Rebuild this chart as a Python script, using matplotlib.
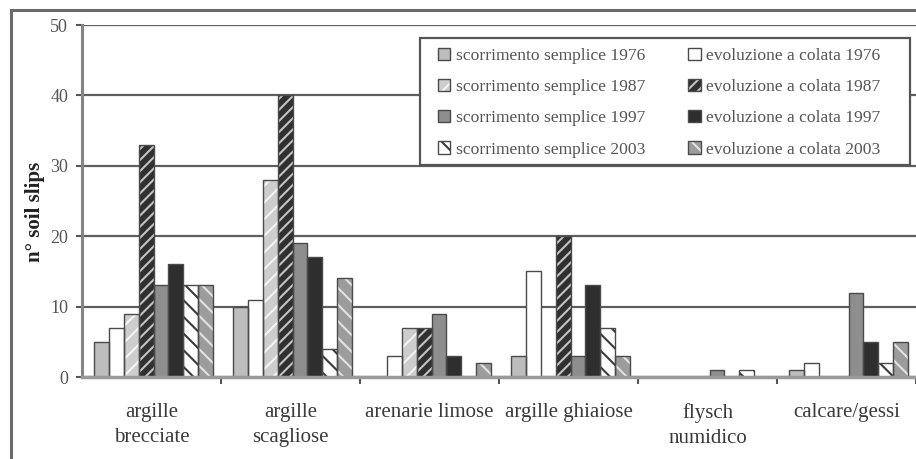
import numpy as np
import matplotlib.pyplot as plt
from matplotlib.patches import Patch, Rectangle
from matplotlib.lines import Line2D

categories = ['argille\nbrecciate', 'argille\nscagliose', 'arenarie limose',
              'argille ghiaiose', 'flysch\nnumidico', 'calcare/gessi']

sc_1976 = [5, 10, 0, 3, 0, 1]
ev_1976 = [7, 11, 3, 15, 0, 2]
sc_1987 = [9, 28, 7, 0, 0, 0]
ev_1987 = [33, 40, 7, 20, 0, 0]
sc_1997 = [13, 19, 9, 3, 1, 12]
ev_1997 = [16, 17, 3, 13, 0, 5]
sc_2003 = [13, 4, 0, 7, 1, 2]
ev_2003 = [13, 14, 2, 3, 0, 5]

labels = ['scorrimento semplice 1976', 'evoluzione a colata 1976',
          'scorrimento semplice 1987', 'evoluzione a colata 1987',
          'scorrimento semplice 1997', 'evoluzione a colata 1997',
          'scorrimento semplice 2003', 'evoluzione a colata 2003']
series = [sc_1976, ev_1976, sc_1987, ev_1987, sc_1997, ev_1997, sc_2003, ev_2003]

# face colour, hatch, hatch colour
styles = [
    ('#bdbdbd', '', None),
    ('#ffffff', '', None),
    ('#cdcdcd', '//', '#f4f4f4'),
    ('#303030', '///', '#c4c4c4'),
    ('#8e8e8e', '', None),
    ('#2e2e2e', '', None),
    ('#ffffff', '\\\\', '#3a3a3a'),
    ('#9c9c9c', '\\\\', '#e2e2e2'),
]
edge = '#4a4a4a'

plt.rcParams['font.family'] = 'Liberation Serif'
plt.rcParams['hatch.linewidth'] = 1.5

fig = plt.figure(figsize=(9.16, 4.59), dpi=100)
ax = fig.add_axes([82 / 916, 82 / 459, 1 - 82 / 916, 352 / 459])

x = np.arange(len(categories))
w = 15 / 140
for k, (vals, (face, hatch, hcol)) in enumerate(zip(series, styles)):
    pos = x + (k - 3.5) * w + 0.015
    ax.bar(pos, vals, w, color=face, hatch=hatch, edgecolor=hcol or face,
           linewidth=0, zorder=3)
    ax.bar(pos, vals, w, fill=False, edgecolor=edge, linewidth=1.0, zorder=4)

ax.set_xlim(-0.5, (916 - 82) / 140 - 0.5)
ax.set_ylim(0, 50)
ax.set_yticks(range(0, 51, 10))
ax.yaxis.grid(True, color='#5e5e5e', linewidth=1.6, zorder=1)
ax.set_axisbelow(True)

ax.set_xticks(x)
ax.set_xticklabels(categories, fontsize=15, color='#3a3a3a', linespacing=1.4)
ax.tick_params(axis='x', length=0, pad=19)
ax.set_xticks(np.arange(0.5, 6, 1), minor=True)
ax.tick_params(axis='x', which='minor', length=5, width=1.5, color='#555555',
               direction='out')
ax.tick_params(axis='y', length=4, width=1.5, color='#555555', pad=6,
               labelsize=13, labelcolor='#555555')

for side in ['top', 'right']:
    ax.spines[side].set_visible(False)
ax.spines['left'].set_color('#858585')
ax.spines['left'].set_linewidth(2.2)
ax.spines['bottom'].set_color('#9a9a9a')
ax.spines['bottom'].set_linewidth(2.5)
ax.spines['bottom'].set_zorder(5)

fig.text(35 / 916, 1 - 212 / 459, 'n° soil slips', rotation=90,
         fontsize=15, fontweight='bold', color='#222222',
         ha='center', va='center')

# outer frame of the chart area
fig.add_artist(Line2D([11 / 916, 11 / 916], [0, 1 - 10 / 459],
                      color='#6a6a6a', linewidth=2.2))
fig.add_artist(Line2D([11 / 916, 1], [1 - 10 / 459, 1 - 10 / 459],
                      color='#6a6a6a', linewidth=2.2))

# legend box
fig.add_artist(Rectangle((420 / 916, 1 - 165 / 459), 490 / 916, 127 / 459,
                         transform=fig.transFigure, facecolor='white',
                         edgecolor='#555555', linewidth=1.6, zorder=6))

# each legend key is the filled square with a dark outline on top
handles = [(Patch(facecolor=f, hatch=h, edgecolor=hc or f, linewidth=0),
            Patch(fill=False, edgecolor=edge, linewidth=1.0))
           for f, h, hc in styles]
order = [0, 2, 4, 6, 1, 3, 5, 7]
leg = fig.legend([handles[i] for i in order], [labels[i] for i in order],
                 ncol=2, loc='upper left',
                 bbox_to_anchor=(438 / 916, 1 - 47.5 / 459, 442 / 916, 0.0),
                 mode='expand', fontsize=12.6, labelspacing=0.86,
                 handlelength=0.7, handleheight=0.7, handletextpad=0.3,
                 borderpad=0, borderaxespad=0, frameon=False,
                 labelcolor='#555555')
leg.set_zorder(7)

fig.savefig('out.png', dpi=100)
